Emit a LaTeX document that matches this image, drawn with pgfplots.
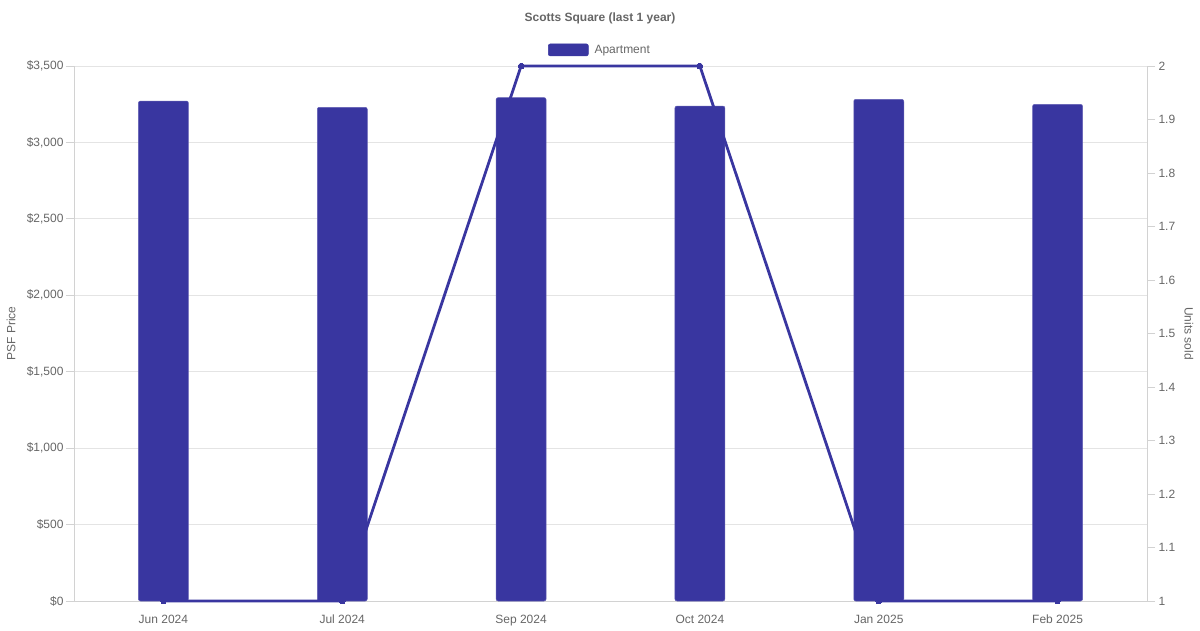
\documentclass[border=0pt]{standalone}
\usepackage{pgfplots}
\pgfplotsset{compat=1.18}
\usepackage{fontspec}
\setmainfont{Liberation Sans}
\definecolor{barcol}{RGB}{57,54,160}
\definecolor{txt}{RGB}{102,102,102}
\definecolor{gridc}{RGB}{228,228,228}
\definecolor{axc}{RGB}{210,210,210}
\begin{document}
\begin{tikzpicture}
\path[use as bounding box] (-74pt,-29pt) rectangle (1126pt,601pt);
\begin{axis}[
  at={(0pt,0pt)}, anchor=south west,
  scale only axis, width=1073pt, height=535pt,
  xmin=-0.5, xmax=5.5, ymin=0, ymax=3500,
  ytick distance=500,
  xtick={0,1,2,3,4,5},
  xticklabels={Jun 2024,Jul 2024,Sep 2024,Oct 2024,Jan 2025,Feb 2025},
  x tick style={draw=none},
  y tick style={draw=axc, line width=0.8pt},
  tick align=outside, major tick length=8pt,
  axis line style={draw=axc, line width=0.8pt},
  axis x line*=bottom, axis y line*=left,
  ymajorgrids, grid style={draw=gridc, line width=0.8pt},
  yticklabel={\$\pgfmathprintnumber[assume math mode=true,1000 sep={,}]{\tick}},
  ticklabel style={font=\fontsize{12}{14}\selectfont, text=txt},
  yticklabel style={xshift=1pt},
  xticklabel style={anchor=north, text height=9pt, text depth=2.5pt, yshift=-2pt},
  every axis y label/.style={at={(axis description cs:0,0.5)}, xshift=-63pt, rotate=90, anchor=center, font=\fontsize{12}{14}\selectfont, text=txt},
  ylabel={PSF Price},
  legend style={at={(axis description cs:0.5,1)}, anchor=south, xshift=-10.5pt, yshift=7pt, draw=none, fill=none, font=\fontsize{12}{14}\selectfont, text=txt},
  legend image code/.code={\fill[barcol] (0pt,-6pt) rectangle (40pt,6pt);},
  clip=false,
]
\addplot[ybar, bar width=50pt, fill=barcol, draw=barcol!80!white, line width=0.5pt, rounded corners=2pt] coordinates {
  (0,3271) (1,3230) (2,3293) (3,3238) (4,3282) (5,3249)
};
\addlegendentry{\hspace{4pt}Apartment}
\node[font=\bfseries\fontsize{12}{14}\selectfont, text=txt] at (axis description cs:0.5,1) [yshift=48pt, xshift=-10.5pt] {Scotts Square (last 1 year)};
\end{axis}
\begin{axis}[
  at={(0pt,0pt)}, anchor=south west,
  scale only axis, width=1073pt, height=535pt,
  xmin=-0.5, xmax=5.5, ymin=1, ymax=2,
  ytick={1,1.1,1.2,1.3,1.4,1.5,1.6,1.7,1.8,1.9,2},
  yticklabels={1,1.1,1.2,1.3,1.4,1.5,1.6,1.7,1.8,1.9,2},
  axis x line=none, axis y line*=right,
  axis line style={draw=axc, line width=0.8pt},
  y tick style={draw=axc, line width=0.8pt},
  tick align=outside, major tick length=8pt,
  ticklabel style={font=\fontsize{12}{14}\selectfont, text=txt},
  every axis y label/.style={at={(axis description cs:1,0.5)}, xshift=42pt, rotate=-90, anchor=center, font=\fontsize{12}{14}\selectfont, text=txt},
  ylabel={Units sold},
  clip=false,
]
\addplot[barcol, line width=2.8pt, mark=*, mark size=2.8pt, mark options={fill=barcol, line width=0pt}] coordinates {
  (0,1) (1,1) (2,2) (3,2) (4,1) (5,1)
};
\end{axis}
\end{tikzpicture}
\end{document}
